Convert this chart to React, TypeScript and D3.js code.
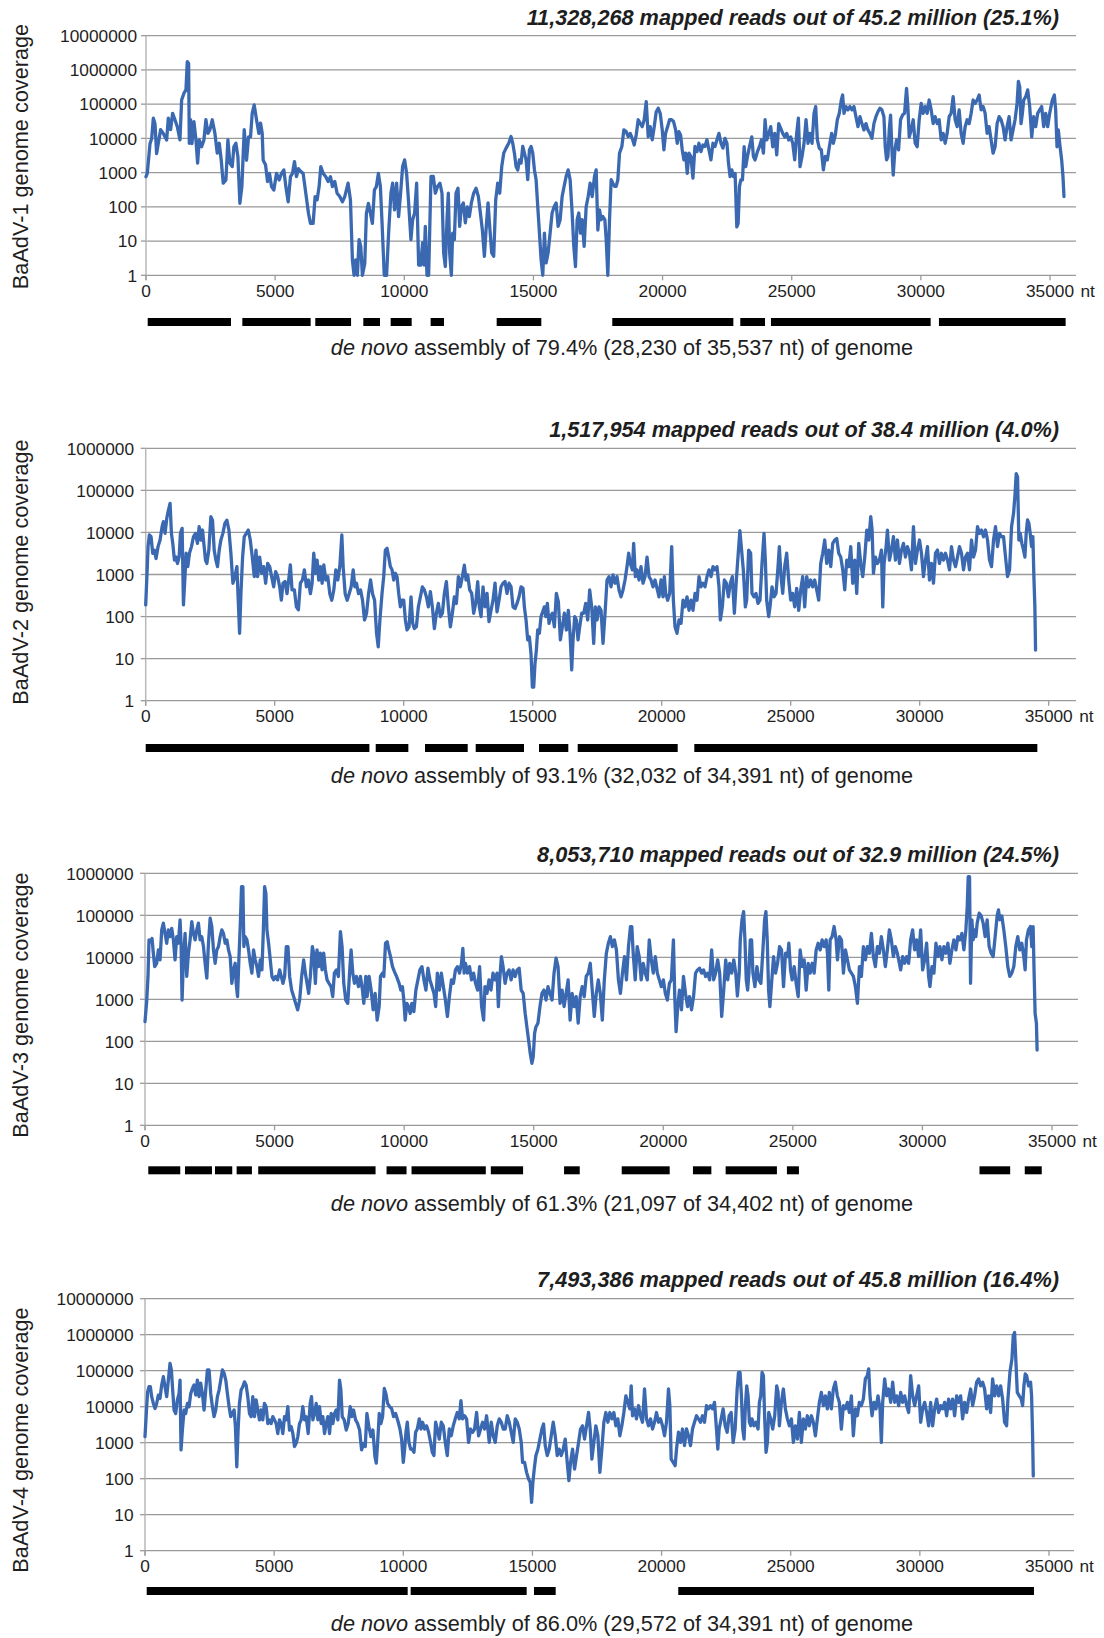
import React from 'react';
import * as d3 from 'd3';

type Pt = [number, number];

// ---- coverage data: [genome position (nt), coverage] ----
const coverageBaAdV1: Pt[] = [[0,760],[50,950],[155,7000],[220,10000],[284,39000],[348,27000],[412,3600],[477,7200],[567,18000],[670,14000],[800,9000],[864,39000],[954,18000],[1031,54000],[1121,35000],[1212,22000],[1315,9000],[1379,132000],[1470,209000],[1547,260000],[1598,1750000],[1650,1550000],[1676,7200],[1727,35000],[1779,7000],[1856,31000],[1934,9000],[1998,1900],[2062,9000],[2153,5700],[2243,9000],[2320,35000],[2397,14000],[2475,18000],[2565,35000],[2668,14000],[2758,3700],[2836,7200],[2913,2300],[2990,490],[3094,610],[3171,9000],[3248,1900],[3339,1500],[3403,5700],[3480,7200],[3558,2900],[3635,127],[3712,390],[3803,18000],[3893,2300],[3970,11000],[4047,11000],[4112,54000],[4189,95000],[4280,35000],[4370,14000],[4434,28000],[4499,14000],[4537,2300],[4628,1700],[4705,550],[4782,950],[4860,390],[4950,310],[5053,950],[5156,610],[5246,950],[5337,1200],[5414,390],[5504,140],[5594,760],[5672,950],[5749,2100],[5826,760],[5904,1300],[5994,1070],[6084,950],[6187,250],[6290,65],[6368,33],[6471,33],[6548,200],[6626,160],[6703,390],[6767,1500],[6858,950],[6961,760],[7051,550],[7141,760],[7218,390],[7309,550],[7399,250],[7502,200],[7605,140],[7695,200],[7824,490],[7915,160],[7992,2.8],[8056,1],[8121,2.8],[8185,1],[8250,11],[8314,7],[8379,1],[8469,2.2],[8533,65],[8611,126],[8688,65],[8765,33],[8843,310],[8920,390],[8997,950],[9075,390],[9134,42],[9225,1],[9315,1],[9393,17],[9483,250],[9548,490],[9625,82],[9703,490],[9780,52],[9858,250],[9935,1500],[10013,2350],[10090,950],[10168,130],[10258,11],[10323,42],[10400,66],[10478,490],[10556,2],[10633,2],[10711,9],[10762,2],[10814,27],[10879,1],[10943,1],[11034,770],[11124,770],[11202,250],[11292,400],[11382,490],[11460,250],[11525,4.5],[11589,1.8],[11654,42],[11705,250],[11757,4.5],[11822,1],[11873,17],[11938,11],[12003,250],[12080,350],[12145,27],[12209,100],[12287,130],[12364,34],[12442,100],[12519,52],[12597,130],[12687,250],[12778,350],[12868,200],[12946,66],[13023,21],[13101,3.6],[13165,21],[13243,130],[13307,27],[13385,4.5],[13462,3.6],[13540,160],[13617,490],[13695,250],[13773,1500],[13850,3700],[13941,5200],[14044,7200],[14134,11300],[14199,7200],[14264,3700],[14328,1500],[14393,1200],[14457,2350],[14522,1900],[14587,5800],[14651,3700],[14716,2350],[14780,620],[14845,4600],[14910,5800],[14974,3700],[15039,1200],[15103,620],[15168,100],[15233,17],[15297,2.9],[15362,1],[15426,17],[15491,2.3],[15568,4.5],[15646,17],[15723,66],[15801,100],[15878,130],[15956,27],[16034,42],[16111,200],[16189,400],[16266,770],[16344,1200],[16421,620],[16499,66],[16563,7],[16628,1.8],[16692,42],[16757,66],[16822,17],[16886,42],[16964,7],[17041,100],[17119,200],[17196,490],[17274,200],[17364,770],[17429,1200],[17494,21],[17558,82],[17623,42],[17687,52],[17765,42],[17817,11],[17881,1],[17946,42],[18010,620],[18075,490],[18140,400],[18204,400],[18269,620],[18333,3700],[18424,5800],[18501,17700],[18592,15700],[18669,11300],[18747,14000],[18824,10000],[18902,6400],[18979,12600],[19057,35000],[19134,27600],[19212,22000],[19289,35000],[19367,118000],[19444,11300],[19522,22000],[19599,9100],[19677,22000],[19754,60000],[19832,76000],[19909,54000],[19987,17700],[20052,4600],[20116,14000],[20194,22000],[20271,35000],[20349,35000],[20426,31000],[20504,17700],[20568,7200],[20633,15700],[20697,12600],[20762,4600],[20827,2350],[20891,3700],[20956,950],[21021,3700],[21098,2950],[21176,690],[21253,5800],[21331,4100],[21408,7200],[21486,4100],[21563,6400],[21641,5800],[21718,9100],[21796,4600],[21873,2350],[21951,7200],[22028,5800],[22106,9100],[22183,14000],[22261,7200],[22338,5200],[22416,10000],[22493,7200],[22552,1900],[22616,760],[22681,1200],[22745,760],[22809,950],[22874,26],[22926,33],[22977,390],[23028,610],[23093,610],[23157,5700],[23222,1500],[23286,2950],[23364,5700],[23454,11000],[23518,2950],[23582,2350],[23673,4100],[23750,5700],[23827,9000],[23905,3700],[23969,35000],[24034,9000],[24098,12600],[24188,22000],[24265,5700],[24343,14000],[24420,3300],[24497,27000],[24575,19600],[24652,14000],[24729,11000],[24807,14000],[24884,9000],[24961,11000],[25039,7200],[25116,2350],[25193,14000],[25258,39000],[25322,1500],[25400,2950],[25477,7200],[25554,35000],[25632,7200],[25709,14000],[25787,7200],[25864,54000],[25928,85000],[25993,9000],[26070,5100],[26147,4600],[26225,1200],[26302,2950],[26379,2350],[26457,5700],[26547,14000],[26611,7200],[26688,12600],[26766,35000],[26843,54000],[26920,132000],[26972,185000],[27024,54000],[27101,85000],[27178,68000],[27255,85000],[27333,68000],[27410,85000],[27487,43000],[27565,22000],[27642,43000],[27719,27000],[27796,17700],[27874,27000],[27951,17700],[28028,14000],[28106,10000],[28183,27000],[28260,43000],[28338,60000],[28415,76000],[28492,68000],[28570,43000],[28621,5700],[28673,2350],[28724,2950],[28776,17700],[28827,48000],[28879,4600],[28930,850],[28995,4600],[29059,9000],[29137,4600],[29214,35000],[29291,48000],[29369,54000],[29446,290000],[29497,85000],[29549,11000],[29626,17700],[29703,35000],[29781,7200],[29858,5700],[29935,35000],[30013,105000],[30090,54000],[30168,85000],[30245,54000],[30322,132000],[30400,68000],[30477,27000],[30554,43000],[30632,27000],[30709,35000],[30786,9000],[30863,14000],[30941,7200],[31018,14000],[31096,43000],[31173,54000],[31250,165000],[31328,35000],[31405,22000],[31482,68000],[31560,14000],[31637,7200],[31714,22000],[31792,35000],[31869,27000],[31946,54000],[32024,132000],[32101,105000],[32178,132000],[32256,185000],[32333,68000],[32410,85000],[32488,54000],[32565,14000],[32642,22000],[32720,9000],[32797,3700],[32874,5700],[32952,27000],[33029,43000],[33106,35000],[33184,22000],[33261,9000],[33338,22000],[33416,43000],[33493,9000],[33570,17700],[33647,35000],[33725,105000],[33776,460000],[33828,320000],[33879,27000],[33931,54000],[33982,132000],[34060,165000],[34137,260000],[34214,85000],[34292,11000],[34369,43000],[34446,22000],[34524,54000],[34601,68000],[34678,85000],[34755,22000],[34833,54000],[34910,22000],[34987,54000],[35090,132000],[35168,185000],[35219,68000],[35271,5700],[35322,17700],[35374,7200],[35451,2350],[35503,760],[35541,200]];

const coverageBaAdV2: Pt[] = [[0,190],[52,1070],[91,4600],[142,8700],[207,7900],[272,3200],[337,3800],[401,2400],[479,4600],[557,6600],[635,13700],[686,18000],[751,9500],[816,21500],[881,34000],[945,49000],[997,9500],[1049,5500],[1114,2200],[1178,2600],[1230,1830],[1295,2600],[1347,9500],[1412,12500],[1463,190],[1515,740],[1567,3200],[1632,1540],[1696,3200],[1774,4600],[1852,7900],[1930,9500],[2007,5500],[2072,13700],[2137,6600],[2201,11400],[2266,4600],[2318,2200],[2370,1830],[2447,3800],[2525,23600],[2590,19600],[2655,3800],[2720,2200],[2784,1540],[2849,3800],[2914,6600],[2991,9500],[3069,16500],[3147,19600],[3225,11400],[3302,3200],[3380,620],[3458,890],[3535,1540],[3587,245],[3639,40],[3691,350],[3756,2600],[3820,7900],[3898,9500],[3976,11400],[4053,6600],[4131,2600],[4209,890],[4274,3800],[4338,890],[4416,2600],[4494,1070],[4572,1540],[4649,620],[4727,1830],[4805,1540],[4882,890],[4960,510],[5038,1170],[5115,890],[5193,510],[5258,245],[5322,620],[5400,680],[5478,350],[5556,890],[5607,1700],[5672,430],[5763,430],[5841,170],[5918,145],[5996,620],[6074,740],[6151,1290],[6229,510],[6307,740],[6384,350],[6449,620],[6514,3200],[6579,1070],[6643,2200],[6708,740],[6773,1540],[6838,620],[6902,1700],[6980,740],[7058,890],[7135,350],[7213,245],[7291,430],[7369,1290],[7446,740],[7524,1540],[7602,8700],[7653,1540],[7731,350],[7809,245],[7887,350],[7964,510],[8042,1290],[8107,510],[8171,620],[8249,350],[8327,430],[8404,245],[8482,83],[8560,120],[8638,350],[8715,740],[8793,350],[8871,245],[8948,40],[9013,19],[9078,83],[9160,355],[9225,890],[9289,3800],[9354,4200],[9419,2600],[9483,1540],[9548,1290],[9612,740],[9677,1070],[9742,890],[9806,355],[9871,170],[9935,245],[10000,245],[10065,83],[10129,48],[10207,57],[10284,295],[10349,69],[10413,52],[10491,57],[10568,170],[10646,295],[10724,510],[10801,430],[10879,295],[10956,170],[11034,390],[11111,170],[11189,52],[11266,120],[11344,205],[11421,100],[11499,120],[11576,355],[11654,680],[11731,170],[11809,57],[11886,120],[11964,295],[12041,205],[12119,890],[12196,510],[12274,890],[12351,1660],[12416,740],[12481,980],[12558,430],[12636,355],[12713,120],[12791,205],[12868,680],[12933,170],[12998,100],[13075,510],[13152,170],[13230,355],[13307,76],[13385,141],[13463,245],[13540,620],[13618,130],[13695,245],[13773,510],[13850,620],[13928,680],[14005,355],[14083,620],[14160,510],[14238,170],[14315,155],[14393,205],[14470,295],[14548,510],[14625,470],[14677,170],[14742,83],[14806,28],[14871,33],[14935,13],[14987,2.1],[15039,2.1],[15090,7.7],[15142,16],[15194,48],[15258,40],[15323,100],[15387,130],[15452,170],[15504,100],[15568,205],[15633,69],[15698,100],[15762,120],[15840,57],[15917,355],[15995,225],[16073,28],[16150,57],[16227,120],[16305,48],[16382,141],[16447,40],[16512,5.4],[16563,28],[16628,100],[16692,83],[16757,28],[16822,57],[16899,120],[16977,120],[17054,205],[17132,83],[17209,430],[17287,170],[17364,23],[17429,170],[17494,83],[17571,170],[17649,141],[17726,23],[17804,120],[17881,740],[17959,890],[18036,510],[18113,980],[18191,620],[18268,890],[18346,430],[18423,295],[18501,430],[18578,740],[18656,1540],[18720,3200],[18785,1830],[18862,1290],[18914,5500],[18979,890],[19044,1290],[19121,740],[19199,1540],[19276,620],[19354,890],[19431,2600],[19509,890],[19586,740],[19664,510],[19741,740],[19819,470],[19896,295],[19974,740],[20051,295],[20103,890],[20155,355],[20232,245],[20310,355],[20387,4600],[20452,245],[20516,57],[20594,40],[20671,83],[20749,69],[20826,245],[20904,170],[20981,295],[21059,141],[21136,245],[21214,141],[21291,355],[21369,245],[21446,890],[21524,510],[21601,620],[21679,510],[21756,890],[21834,1290],[21911,890],[21989,1540],[22066,1290],[22144,1540],[22221,510],[22273,83],[22351,170],[22428,740],[22506,620],[22584,295],[22661,620],[22738,890],[22816,120],[22893,740],[23030,11000],[23164,1290],[23242,170],[23293,245],[23371,3800],[23448,3200],[23500,355],[23578,295],[23655,355],[23733,205],[23810,245],[23888,1830],[23966,9500],[24017,2200],[24069,245],[24147,100],[24198,170],[24276,510],[24353,295],[24431,355],[24509,1540],[24560,4600],[24625,890],[24690,355],[24767,1540],[24845,3200],[24922,740],[25000,245],[25078,355],[25155,170],[25233,470],[25310,141],[25388,430],[25465,890],[25543,170],[25621,890],[25698,510],[25776,740],[25853,510],[25931,740],[26008,430],[26086,245],[26164,1830],[26241,3200],[26319,6600],[26396,1830],[26474,3800],[26552,1540],[26629,5500],[26707,6600],[26784,7200],[26862,3200],[26939,2600],[27017,1290],[27095,430],[27172,2200],[27250,1540],[27327,4600],[27405,620],[27483,2200],[27560,355],[27638,5500],[27715,1830],[27793,890],[27870,2600],[27948,11400],[28026,6600],[28103,23600],[28155,11400],[28207,1070],[28284,2600],[28362,1830],[28440,2200],[28517,3800],[28569,170],[28620,1830],[28698,4600],[28750,11400],[28827,2200],[28905,3800],[28982,7900],[29060,2200],[29138,6600],[29215,1830],[29293,3800],[29370,5500],[29448,2600],[29525,4600],[29603,3200],[29680,1290],[29758,13700],[29836,1830],[29913,3800],[29991,6600],[30068,3200],[30146,890],[30224,2200],[30301,4600],[30379,740],[30456,1830],[30534,620],[30612,3200],[30689,3800],[30767,1830],[30844,3200],[30922,2200],[31000,3200],[31077,2200],[31155,1290],[31232,4600],[31310,2200],[31387,1540],[31465,2600],[31543,4600],[31620,3200],[31698,1290],[31775,2600],[31853,3200],[31930,1290],[32008,6600],[32086,2600],[32163,3800],[32241,13700],[32318,9500],[32396,11400],[32473,7900],[32551,11400],[32629,6600],[32706,2200],[32784,1540],[32861,6600],[32939,13700],[33016,4600],[33094,9500],[33172,7900],[33249,7900],[33327,2600],[33404,890],[33482,1290],[33560,13700],[33637,28000],[33689,71000],[33741,250000],[33792,210000],[33844,6600],[33896,9500],[33960,5500],[34025,3800],[34077,2600],[34128,9500],[34180,19800],[34232,16500],[34283,9500],[34335,4600],[34387,7900],[34426,890],[34464,170],[34490,16]];

const coverageBaAdV3: Pt[] = [[0,295],[64,870],[116,3500],[155,26000],[219,23600],[271,28000],[322,12500],[374,6000],[451,7200],[516,15000],[580,8700],[645,45000],[709,65000],[773,37000],[838,21600],[902,45000],[967,31000],[1031,49000],[1096,26000],[1160,8700],[1225,31000],[1289,21600],[1353,78000],[1392,21600],[1431,960],[1482,8700],[1547,37000],[1611,3500],[1676,12500],[1740,26000],[1805,71000],[1869,37000],[1934,26000],[1998,45000],[2062,65000],[2127,26000],[2191,31000],[2256,18000],[2320,7200],[2385,3200],[2449,21600],[2514,85000],[2578,54000],[2642,15000],[2707,7200],[2771,15000],[2836,18000],[2900,31000],[2965,45000],[3029,37000],[3094,21600],[3158,26000],[3223,15000],[3287,10400],[3351,2400],[3416,5000],[3480,7200],[3519,2400],[3571,1160],[3622,8700],[3674,54000],[3725,480000],[3777,480000],[3815,18000],[3867,31000],[3932,26000],[3996,15000],[4060,7200],[4125,4200],[4189,15000],[4254,8700],[4318,6000],[4383,3500],[4447,8700],[4512,5000],[4563,37000],[4615,480000],[4666,330000],[4705,45000],[4769,21600],[4834,8700],[4898,3500],[4963,2900],[5040,3500],[5117,2900],[5195,5000],[5259,3500],[5324,2400],[5388,3500],[5453,18000],[5517,18000],[5581,3500],[5659,1660],[5736,1160],[5813,800],[5891,560],[5968,960],[6045,3500],[6123,8700],[6187,4200],[6252,2400],[6316,1380],[6381,3500],[6458,18000],[6509,12500],[6574,2400],[6638,15000],[6703,6000],[6767,12500],[6832,5000],[6896,12500],[6961,5000],[7025,2900],[7102,2400],[7180,2000],[7244,1160],[7308,4200],[7386,5000],[7463,3500],[7541,41000],[7605,18000],[7670,2400],[7747,960],[7824,800],[7901,5000],[7953,15000],[8018,4200],[8082,2400],[8160,3500],[8237,2000],[8314,3500],[8391,1660],[8443,800],[8520,3500],[8572,1160],[8649,3500],[8726,1660],[8804,560],[8881,1380],[8959,320],[9036,670],[9087,3500],[9164,4200],[9216,3500],[9281,21600],[9345,23600],[9410,15000],[9474,10400],[9551,6000],[9629,4500],[9706,3500],[9806,2400],[9871,1660],[9935,2000],[9987,960],[10039,320],[10103,800],[10168,670],[10233,460],[10298,800],[10375,510],[10453,1660],[10531,2900],[10608,5000],[10686,6000],[10763,2900],[10841,1660],[10919,5500],[10996,2900],[11074,2000],[11152,1380],[11216,670],[11281,4200],[11359,1660],[11436,4200],[11514,2000],[11592,960],[11669,390],[11747,1160],[11825,2900],[11902,2400],[11980,5000],[12057,6000],[12135,4200],[12213,7200],[12265,16300],[12316,4200],[12368,7200],[12446,4200],[12523,6000],[12601,2900],[12679,4200],[12756,2400],[12834,1660],[12912,6000],[12989,670],[13067,320],[13119,2000],[13196,1380],[13274,2900],[13351,1660],[13429,4200],[13507,2900],[13584,4200],[13636,670],[13688,2900],[13753,10400],[13817,6000],[13895,2400],[13973,4200],[14050,5000],[14128,2900],[14205,5000],[14283,3500],[14361,5000],[14438,5500],[14516,1660],[14594,1380],[14671,460],[14736,220],[14801,108],[14865,52],[14930,30],[14982,43],[15034,155],[15085,220],[15163,270],[15241,670],[15318,1380],[15396,1660],[15474,960],[15551,2000],[15629,1380],[15706,960],[15784,4200],[15862,9500],[15939,6000],[16017,800],[16095,1660],[16172,670],[16250,1380],[16328,2900],[16405,320],[16483,1380],[16560,670],[16638,1160],[16716,270],[16793,1160],[16871,2000],[16949,1160],[17026,3500],[17104,4200],[17182,7200],[17259,1660],[17337,390],[17415,1380],[17492,2900],[17570,1380],[17647,320],[17725,2900],[17803,12500],[17880,21600],[17958,31000],[18036,18000],[18113,26000],[18191,15000],[18269,2900],[18346,1380],[18424,4200],[18502,10400],[18579,2900],[18657,18000],[18735,54000],[18786,54000],[18838,12500],[18916,2900],[18993,18000],[19071,10400],[19148,2900],[19226,7200],[19304,4200],[19382,2900],[19459,26000],[19537,8700],[19614,4200],[19692,10400],[19770,4200],[19847,2900],[19925,2000],[20003,2900],[20080,1380],[20158,960],[20236,2400],[20313,2900],[20391,26000],[20443,1160],[20494,170],[20559,670],[20624,1660],[20702,560],[20779,3500],[20857,1380],[20935,670],[21012,1160],[21090,560],[21168,1160],[21245,4200],[21323,5000],[21400,5500],[21478,4200],[21556,5000],[21633,3500],[21711,4200],[21789,2900],[21866,15000],[21944,2900],[22021,4200],[22099,8700],[22177,4200],[22254,390],[22332,1660],[22409,8700],[22487,2900],[22565,7200],[22642,4200],[22720,8700],[22797,4200],[22860,1200],[22930,4200],[22971,26000],[23036,78000],[23100,122000],[23151,26000],[23202,2900],[23254,1660],[23305,4200],[23357,26000],[23408,26000],[23459,4200],[23536,2000],[23613,6000],[23690,2900],[23767,2400],[23844,15000],[23909,78000],[23960,122000],[24011,26000],[24063,1660],[24114,670],[24178,2400],[24255,10400],[24332,4200],[24409,7200],[24486,18000],[24563,15000],[24640,2000],[24717,12500],[24795,10400],[24846,21600],[24910,5000],[24974,2900],[25051,6000],[25128,2400],[25205,1160],[25282,15000],[25360,6000],[25437,8700],[25514,1660],[25591,7200],[25668,4200],[25745,7200],[25822,4200],[25899,15000],[25976,21600],[26053,15000],[26130,26000],[26207,18000],[26284,26000],[26335,12500],[26387,1660],[26438,26000],[26515,31000],[26592,54000],[26669,26000],[26721,8700],[26798,31000],[26875,26000],[26952,4200],[27029,15000],[27106,8700],[27183,5000],[27260,4200],[27337,3500],[27414,2000],[27491,800],[27568,6000],[27645,3500],[27722,18000],[27800,8700],[27877,18000],[27954,12500],[28031,37000],[28108,10400],[28185,6000],[28262,18000],[28339,12500],[28416,31000],[28493,15000],[28570,6000],[28647,15000],[28724,45000],[28801,26000],[28878,10400],[28955,18000],[29032,12500],[29109,7200],[29160,5000],[29237,10400],[29314,7200],[29391,10400],[29468,7200],[29545,26000],[29622,45000],[29699,15000],[29776,26000],[29853,10400],[29931,45000],[30008,5000],[30085,8700],[30162,21600],[30239,3500],[30290,2000],[30367,6000],[30444,4200],[30521,21600],[30598,10400],[30675,18000],[30752,8700],[30829,18000],[30906,12500],[30983,21600],[31060,7200],[31137,15000],[31214,26000],[31291,15000],[31368,31000],[31446,26000],[31523,37000],[31600,15000],[31677,45000],[31728,160000],[31767,830000],[31818,830000],[31857,2400],[31908,78000],[31959,26000],[32011,45000],[32062,31000],[32113,65000],[32190,112000],[32267,97000],[32344,65000],[32421,31000],[32498,78000],[32575,18000],[32652,12500],[32729,10400],[32806,31000],[32883,97000],[32935,134000],[32986,78000],[33063,97000],[33140,45000],[33217,18000],[33294,6000],[33372,3500],[33449,4200],[33526,6000],[33603,18000],[33680,31000],[33757,15000],[33834,21600],[33911,10400],[33963,5000],[34014,26000],[34091,45000],[34168,54000],[34220,18000],[34271,54000],[34310,4200],[34348,460],[34399,270],[34425,62]];

const coverageBaAdV4: Pt[] = [[0,1480],[65,10000],[103,26000],[155,36000],[207,36000],[258,19000],[323,12300],[388,8900],[452,12300],[517,21000],[581,17000],[646,40000],[711,68000],[775,36000],[840,19000],[904,55000],[969,160000],[1021,105000],[1072,29000],[1124,8100],[1189,6500],[1253,15500],[1318,23000],[1357,55000],[1395,630],[1447,2250],[1512,8100],[1576,6500],[1641,12300],[1705,10000],[1770,23000],[1835,32000],[1899,40000],[1964,21000],[2028,55000],[2093,19000],[2158,45000],[2222,23000],[2287,8100],[2351,29000],[2416,105000],[2481,105000],[2545,23000],[2610,10000],[2674,5300],[2739,8100],[2804,19000],[2868,29000],[2933,55000],[2997,105000],[3062,85000],[3127,55000],[3191,23000],[3256,10000],[3320,5300],[3385,6500],[3450,8100],[3501,2800],[3553,215],[3605,2250],[3656,12300],[3721,29000],[3786,36000],[3850,49000],[3915,40000],[3979,19000],[4044,6500],[4109,5300],[4173,19000],[4238,5300],[4302,15500],[4367,8100],[4432,4300],[4496,8100],[4561,4300],[4625,12300],[4690,10000],[4755,3400],[4819,4300],[4884,3400],[4948,5300],[5013,4300],[5078,3400],[5142,1800],[5207,4300],[5271,3400],[5336,1800],[5401,5300],[5465,4300],[5530,10000],[5594,2250],[5659,2800],[5724,1800],[5788,780],[5853,960],[5917,1480],[5982,3400],[6047,4300],[6111,10000],[6176,4300],[6240,5300],[6318,1800],[6395,12300],[6447,19000],[6499,4300],[6563,6500],[6628,12300],[6693,4300],[6757,10000],[6822,3400],[6886,5300],[6951,1800],[7016,3400],[7080,5300],[7145,1800],[7209,6500],[7274,3400],[7339,6500],[7403,8100],[7468,4300],[7532,55000],[7584,29000],[7636,5300],[7713,4300],[7791,2250],[7868,3400],[7946,10000],[8010,5300],[8075,8100],[8153,4300],[8230,3400],[8308,2250],[8385,630],[8463,960],[8527,780],[8592,6500],[8669,2800],[8747,1480],[8824,2250],[8902,410],[8954,270],[9005,960],[9070,6500],[9134,3400],[9199,5300],[9264,32000],[9328,23000],[9393,12300],[9470,10000],[9548,8900],[9625,5300],[9703,6500],[9806,3700],[9871,2400],[9935,1260],[10000,285],[10052,660],[10103,1950],[10155,3700],[10219,1020],[10284,660],[10348,660],[10413,540],[10477,1950],[10542,2400],[10619,4600],[10684,2400],[10748,3700],[10826,2400],[10903,2950],[10980,1950],[11058,1020],[11122,540],[11187,440],[11251,3700],[11316,2400],[11393,1260],[11471,3700],[11548,2950],[11625,1020],[11703,440],[11780,2400],[11858,1560],[11935,2950],[12012,4600],[12090,6900],[12167,4600],[12232,14700],[12296,4600],[12374,5600],[12451,4600],[12528,1020],[12606,2400],[12683,1950],[12761,2400],[12838,6900],[12915,1560],[12993,2400],[13070,3700],[13148,2400],[13225,5600],[13277,2400],[13328,1020],[13406,3700],[13483,1560],[13560,1020],[13638,2950],[13715,4600],[13793,3700],[13870,2400],[13947,2400],[14025,5600],[14102,3700],[14180,1950],[14257,1020],[14334,4600],[14412,3700],[14489,2400],[14567,1020],[14618,285],[14696,285],[14773,150],[14850,98],[14915,79],[14967,22],[15018,79],[15070,185],[15134,440],[15212,660],[15289,1260],[15366,2400],[15431,3300],[15496,830],[15573,440],[15650,660],[15728,1560],[15805,3700],[15882,1560],[15960,440],[16037,660],[16115,440],[16192,660],[16270,1260],[16347,285],[16412,88],[16476,285],[16554,660],[16631,185],[16709,440],[16786,1020],[16863,2400],[16941,2950],[17018,1260],[17095,2950],[17173,6900],[17237,2400],[17302,350],[17379,1020],[17456,2950],[17534,1560],[17611,150],[17688,660],[17766,3700],[17843,6900],[17921,3700],[17998,6900],[18075,4600],[18153,6900],[18230,2950],[18308,4600],[18385,1560],[18462,2950],[18540,6900],[18617,20000],[18695,13200],[18772,8700],[18824,38000],[18875,5600],[18953,8700],[19030,4600],[19107,10700],[19185,5600],[19262,3700],[19340,31000],[19417,4600],[19494,2950],[19572,4600],[19649,2400],[19727,3700],[19804,6900],[19881,3700],[19959,4600],[20036,2950],[20114,1560],[20191,3700],[20268,31000],[20320,10700],[20372,350],[20449,285],[20526,230],[20578,660],[20655,1950],[20733,1020],[20810,2400],[20888,830],[20965,2400],[21042,1560],[21120,830],[21197,2400],[21275,3700],[21352,5600],[21429,4600],[21507,3700],[21584,5600],[21662,3700],[21739,10700],[21816,8700],[21894,10700],[21971,8700],[22049,13200],[22126,2400],[22178,660],[22229,2400],[22307,4600],[22384,8700],[22462,2950],[22539,1950],[22616,5600],[22694,6900],[22771,1020],[22849,2400],[22926,31000],[22978,90000],[23039,90000],[23091,20000],[23142,2400],[23194,1260],[23246,10700],[23297,38000],[23349,20000],[23400,3700],[23452,2950],[23504,4600],[23581,2950],[23658,3700],[23736,2400],[23787,13200],[23839,20000],[23891,90000],[23942,73000],[23994,4600],[24045,540],[24097,1020],[24149,6900],[24226,4600],[24303,2400],[24381,5600],[24458,38000],[24510,25000],[24561,2950],[24639,13200],[24716,31000],[24794,8700],[24871,4600],[24948,2950],[25026,4600],[25103,1020],[25181,2950],[25258,1260],[25335,6900],[25413,1020],[25490,4600],[25568,2400],[25645,5600],[25722,2950],[25800,5600],[25877,3700],[25955,1560],[26032,4600],[26109,13200],[26187,25000],[26264,10700],[26342,20000],[26419,8700],[26496,25000],[26574,8700],[26651,31000],[26728,48000],[26806,20000],[26883,13200],[26961,2400],[27038,10700],[27116,8700],[27193,13200],[27270,6900],[27348,20000],[27425,1560],[27503,8700],[27580,5600],[27657,13200],[27735,10700],[27812,16300],[27890,59000],[27967,73000],[28019,112000],[28070,20000],[28148,5600],[28225,13200],[28302,8700],[28380,20000],[28457,8700],[28509,1020],[28561,13200],[28638,59000],[28715,20000],[28793,31000],[28870,13200],[28948,48000],[29025,13200],[29102,20000],[29180,10700],[29257,25000],[29335,13200],[29412,20000],[29489,10700],[29567,6900],[29644,73000],[29721,20000],[29799,10700],[29876,20000],[29954,38000],[30031,3700],[30108,8700],[30186,13200],[30263,6900],[30340,2950],[30418,13200],[30495,2950],[30573,8700],[30650,16300],[30727,6900],[30805,10700],[30882,8700],[30960,13200],[31037,5600],[31114,16300],[31192,8700],[31269,16300],[31346,5600],[31424,20000],[31501,13200],[31579,20000],[31656,4600],[31733,13200],[31811,6900],[31888,16300],[31966,31000],[32043,10700],[32120,20000],[32198,48000],[32275,59000],[32353,38000],[32430,48000],[32507,31000],[32585,8700],[32662,20000],[32740,6900],[32817,59000],[32894,20000],[32972,38000],[33049,20000],[33126,38000],[33204,16300],[33281,3700],[33359,2950],[33410,16300],[33488,90000],[33565,210000],[33617,940000],[33668,1150000],[33720,170000],[33772,25000],[33849,20000],[33926,16300],[33978,10700],[34029,38000],[34081,81000],[34133,73000],[34210,38000],[34287,48000],[34326,20000],[34365,1560],[34391,120]];

// ---- de novo assembled contigs: [start nt, end nt] ----
const contigsBaAdV1: Pt[] = [[66,3290],[3730,6375],[6555,7940],[8414,9060],[9473,10286],[11020,11537],[13577,15305],[18053,22740],[23009,23965],[24196,30379],[30700,35605]];
const contigsBaAdV2: Pt[] = [[0,8670],[8915,10180],[10826,12481],[12791,14663],[15244,16380],[16744,20620],[21264,34560]];
const contigsBaAdV3: Pt[] = [[127,1361],[1543,2584],[2700,3367],[3536,4126],[4369,8897],[9321,10092],[10285,13151],[13344,14590],[16171,16776],[18396,20247],[21145,21855],[22406,24385],[24771,25234],[32202,33386],[33949,34604]];
const contigsBaAdV4: Pt[] = [[66,10170],[10286,14777],[15060,15900],[20646,34418]];

// ---- texts ----
const virusNames = ['BaAdV-1', 'BaAdV-2', 'BaAdV-3', 'BaAdV-4'];
const mappedTitles = [
  '11,328,268 mapped reads out of 45.2 million (25.1%)',
  '1,517,954 mapped reads out of 38.4 million (4.0%)',
  '8,053,710 mapped reads out of 32.9 million (24.5%)',
  '7,493,386 mapped reads out of 45.8 million (16.4%)',
];
const assemblyTexts = [
  ' assembly of 79.4% (28,230 of 35,537 nt) of genome',
  ' assembly of 93.1% (32,032 of 34,391 nt) of genome',
  ' assembly of 61.3% (21,097 of 34,402 nt) of genome',
  ' assembly of 86.0% (29,572 of 34,391 nt) of genome',
];
const yMaxExponents = [7, 6, 6, 7];
const xTickValues = [0, 5000, 10000, 15000, 20000, 25000, 30000, 35000];

const coverages = [coverageBaAdV1, coverageBaAdV2, coverageBaAdV3, coverageBaAdV4];
const contigs = [contigsBaAdV1, contigsBaAdV2, contigsBaAdV3, contigsBaAdV4];

// ---- layout (pixels) ----
const layouts = [
  { top: 35.7, bottom: 275.3, x0: 146, x35: 1050, gridEnd: 1076, labelX: 137, ylabY: 156.5, barY: 322, capY: 355, titleY: 25 },
  { top: 448.3, bottom: 700.7, x0: 145.7, x35: 1048.7, gridEnd: 1076, labelX: 134, ylabY: 572, barY: 748, capY: 783, titleY: 437 },
  { top: 873.3, bottom: 1125.3, x0: 145, x35: 1052, gridEnd: 1078, labelX: 133.5, ylabY: 1005, barY: 1170.3, capY: 1211, titleY: 862 },
  { top: 1298.7, bottom: 1550.7, x0: 145, x35: 1049, gridEnd: 1074, labelX: 133.5, ylabY: 1440, barY: 1591, capY: 1631, titleY: 1287 },
];

const FONT = "'Liberation Sans', Arial, sans-serif";
const LINE_COLOR = '#3b69b1';
const GRID_COLOR = '#9a9a9a';
const TEXT_COLOR = '#1e1e1e';
const BIG = 21.7;
const TICK = 17.3;

function Panel({ i }: { i: number }) {
  const L = layouts[i];
  const maxExp = yMaxExponents[i];
  const x = d3.scaleLinear().domain([0, 35000]).range([L.x0, L.x35]);
  const y = d3.scaleLog().domain([1, Math.pow(10, maxExp)]).range([L.bottom, L.top]);
  const decades = d3.range(0, maxExp + 1).map((e) => Math.pow(10, e));
  const line = d3
    .line<Pt>()
    .x((d) => x(d[0]))
    .y((d) => y(Math.max(1, d[1])));
  const path = line(coverages[i]) || '';
  const fmt = d3.format('d');

  return (
    <g>
      {decades.map((v) => (
        <line key={'g' + v} x1={L.x0} x2={L.gridEnd} y1={y(v)} y2={y(v)} stroke={GRID_COLOR} strokeWidth={1.3} />
      ))}
      <line x1={L.x0} x2={L.x0} y1={L.top} y2={L.bottom + 5} stroke="#b8b8b8" strokeWidth={1.5} />
      {decades.map((v) => (
        <g key={'yt' + v}>
          <line x1={L.x0 - 5} x2={L.x0} y1={y(v)} y2={y(v)} stroke={GRID_COLOR} strokeWidth={1.3} />
          <text x={L.labelX} y={y(v)} dy="0.36em" textAnchor="end" fontSize={TICK} fill={TEXT_COLOR} fontFamily={FONT}>
            {fmt(v)}
          </text>
        </g>
      ))}
      {xTickValues.map((t) => (
        <g key={'xt' + t}>
          <line x1={x(t)} x2={x(t)} y1={L.bottom} y2={L.bottom + 5} stroke={GRID_COLOR} strokeWidth={1.3} />
          <text x={x(t)} y={L.bottom + 21.5} textAnchor="middle" fontSize={TICK} fill={TEXT_COLOR} fontFamily={FONT}>
            {String(t)}
          </text>
        </g>
      ))}
      <text x={x(35000) + 30.5} y={L.bottom + 21.5} textAnchor="start" fontSize={TICK} fill={TEXT_COLOR} fontFamily={FONT}>
        nt
      </text>
      <path d={path} fill="none" stroke={LINE_COLOR} strokeWidth={3.3} strokeLinejoin="round" strokeLinecap="round" />
      {contigs[i].map((c, k) => (
        <rect key={'c' + k} x={x(c[0])} y={L.barY - 4} width={x(c[1]) - x(c[0])} height={8} fill="#000" />
      ))}
      <text x={1059} y={L.titleY} textAnchor="end" fontSize={BIG} fontWeight="bold" fontStyle="italic" fill={TEXT_COLOR} fontFamily={FONT}>
        {mappedTitles[i]}
      </text>
      <text x={622} y={L.capY} textAnchor="middle" fontSize={BIG} fill={TEXT_COLOR} fontFamily={FONT}>
        <tspan fontStyle="italic">de novo</tspan>
        <tspan>{assemblyTexts[i]}</tspan>
      </text>
      <text transform={`translate(28,${L.ylabY}) rotate(-90)`} textAnchor="middle" fontSize={BIG} fill={TEXT_COLOR} fontFamily={FONT}>
        {virusNames[i] + ' genome coverage'}
      </text>
    </g>
  );
}

export default function App() {
  return (
    <div style={{ position: 'absolute', left: 0, top: 0, width: 1104, height: 1638, background: '#fff' }}>
      <svg width={1104} height={1638} viewBox="0 0 1104 1638" style={{ display: 'block' }}>
        <rect x={0} y={0} width={1104} height={1638} fill="#fff" />
        {[0, 1, 2, 3].map((i) => (
          <Panel key={i} i={i} />
        ))}
      </svg>
    </div>
  );
}
